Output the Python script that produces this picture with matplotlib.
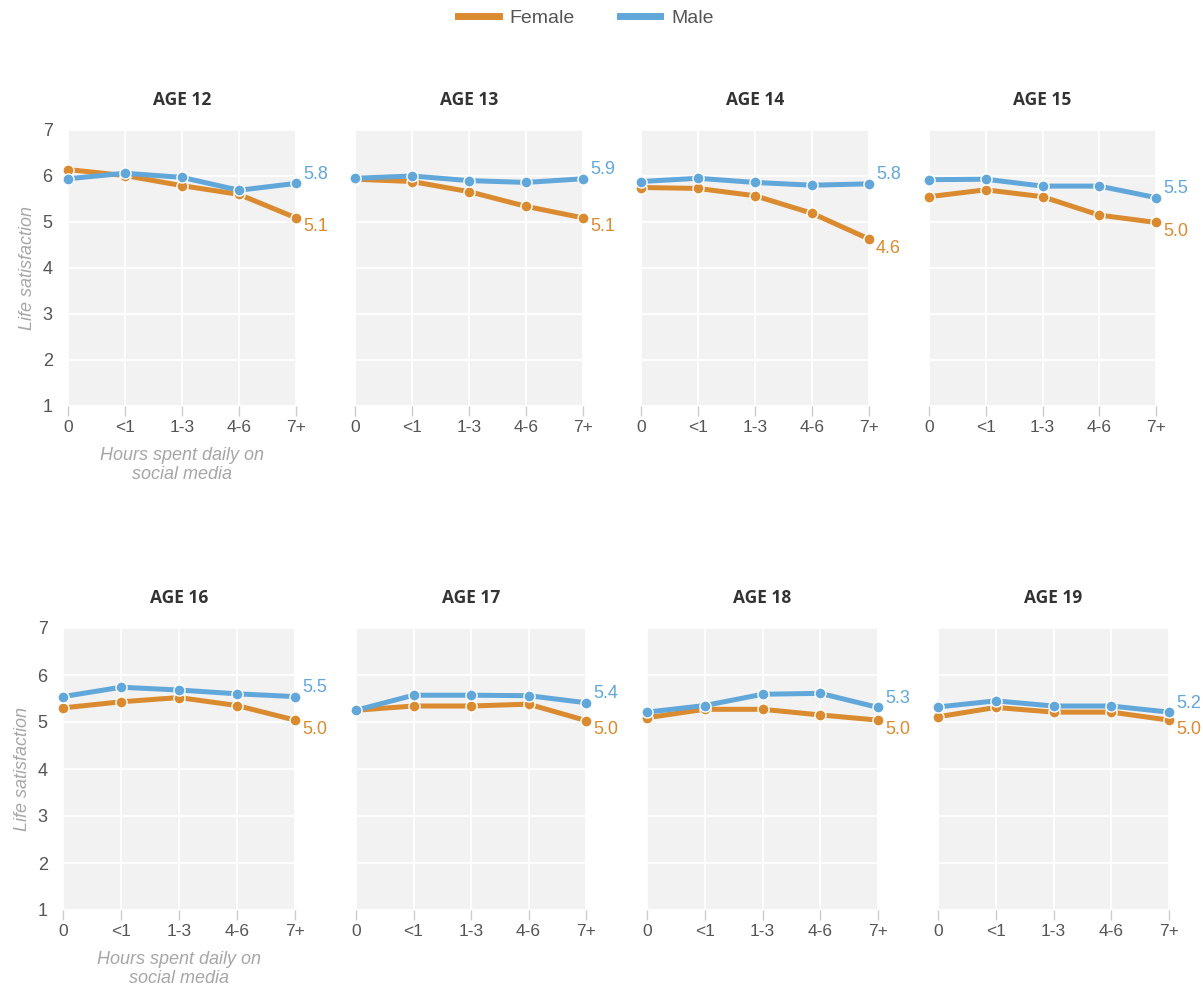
import matplotlib

matplotlib.use("Agg")
import matplotlib.pyplot as plt
from matplotlib.lines import Line2D

FEMALE = "#da8a2f"
MALE = "#62a7d9"
BG = "#f2f2f2"
TICK = "#555555"
AXLAB = "#a6a6a6"

hours = ["0", "<1", "1-3", "4-6", "7+"]
ages = [12, 13, 14, 15, 16, 17, 18, 19]

female = {
    12: [6.14, 6.01, 5.79, 5.60, 5.09],
    13: [5.93, 5.88, 5.66, 5.34, 5.09],
    14: [5.75, 5.73, 5.57, 5.19, 4.63],
    15: [5.55, 5.70, 5.55, 5.15, 4.99],
    16: [5.30, 5.43, 5.52, 5.35, 5.04],
    17: [5.25, 5.34, 5.34, 5.38, 5.03],
    18: [5.09, 5.27, 5.27, 5.15, 5.04],
    19: [5.11, 5.31, 5.21, 5.21, 5.04],
}
male = {
    12: [5.94, 6.06, 5.97, 5.69, 5.84],
    13: [5.95, 6.00, 5.90, 5.86, 5.94],
    14: [5.88, 5.95, 5.86, 5.80, 5.83],
    15: [5.92, 5.93, 5.78, 5.78, 5.53],
    16: [5.54, 5.74, 5.68, 5.60, 5.54],
    17: [5.25, 5.57, 5.57, 5.56, 5.41],
    18: [5.21, 5.35, 5.59, 5.61, 5.31],
    19: [5.32, 5.45, 5.34, 5.34, 5.21],
}

W, H = 1203, 986
# panel boxes in pixels: (left, top, right, bottom)
boxes = [
    (68, 130, 296, 406), (355, 130, 583, 406), (641, 130, 869, 406), (929, 130, 1156, 406),
    (63, 628, 295, 910), (356, 628, 586, 910), (647, 628, 878, 910), (938, 628, 1169, 910),
]

plt.rcParams["font.family"] = ["Liberation Sans", "DejaVu Sans"]
fig = plt.figure(figsize=(W / 100, H / 100), dpi=100)
fig.patch.set_facecolor("white")

for i, age in enumerate(ages):
    l, t, r, b = boxes[i]
    ax = fig.add_axes([l / W, 1 - b / H, (r - l) / W, (b - t) / H])
    ax.set_facecolor(BG)
    x = range(len(hours))
    ax.plot(x, female[age], color=FEMALE, lw=3.6, marker="o", ms=8,
            mec="white", mew=1, zorder=3, clip_on=False)
    ax.plot(x, male[age], color=MALE, lw=3.6, marker="o", ms=8,
            mec="white", mew=1, zorder=4, clip_on=False)
    ax.annotate(f"{male[age][-1]:.1f}", xy=(4, male[age][-1]), xytext=(5, 6.5),
                textcoords="offset points", color=MALE, fontsize=13,
                ha="left", va="center", annotation_clip=False)
    ax.annotate(f"{female[age][-1]:.1f}", xy=(4, female[age][-1]), xytext=(5, -6.5),
                textcoords="offset points", color=FEMALE, fontsize=13,
                ha="left", va="center", annotation_clip=False)

    ax.set_xlim(0, 4)
    ax.set_ylim(1, 7)
    ax.set_xticks(list(x))
    ax.set_xticklabels(hours)
    ax.set_yticks(range(1, 8))
    ax.grid(True, color="white", lw=1.3)
    ax.set_axisbelow(True)
    for s in ax.spines.values():
        s.set_visible(False)
    ax.tick_params(axis="x", length=7, width=1, color="#cccccc", pad=3,
                   labelsize=12.5, labelcolor=TICK)
    ax.tick_params(axis="y", length=0, pad=11, labelsize=13, labelcolor=TICK)
    if i % 4 != 0:
        ax.set_yticklabels([])
    else:
        ax.set_ylabel("Life satisfaction", color=AXLAB, fontstyle="italic",
                      fontsize=13, labelpad=5)
        ax.set_xlabel("Hours spent daily on\nsocial media", color=AXLAB,
                      fontstyle="italic", fontsize=13, linespacing=1.1, labelpad=9)
    ax.set_title(f"AGE {age}", fontsize=12.5, fontweight="bold", color="#333333",
                 family=["Open Sans", "DejaVu Sans"], pad=18)

handles = [Line2D([], [], color=FEMALE, lw=5), Line2D([], [], color=MALE, lw=5)]
fig.legend(handles, ["Female", "Male"], loc="center", bbox_to_anchor=(0.487, 1 - 18 / H),
           ncol=2, frameon=False, fontsize=14, labelcolor=TICK, handlelength=2.1,
           columnspacing=2.3, handletextpad=0.55)

fig.savefig("out.png", dpi=100, facecolor="white")
